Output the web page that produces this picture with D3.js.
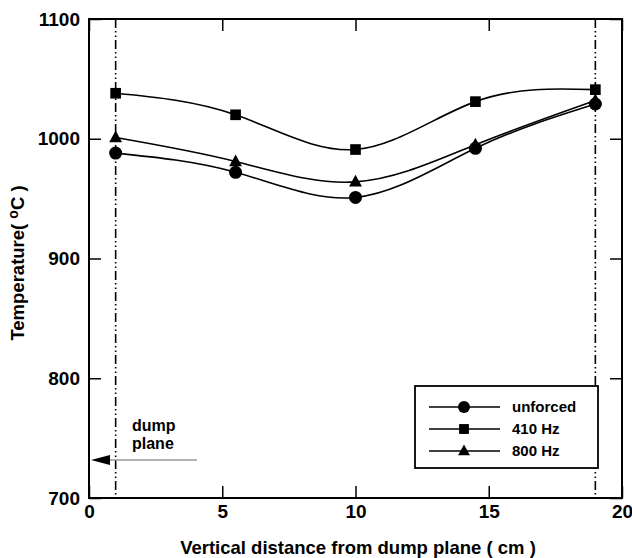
<!DOCTYPE html>
<html>
<head>
<meta charset="utf-8">
<script src="https://cdn.jsdelivr.net/npm/d3@7"></script>
<style>
    body { margin: 0; background: #fff; }
    text { font-family: "Liberation Sans", Arial, sans-serif; font-weight: bold; fill: #000; }
    .frame { fill: none; stroke: #000; stroke-width: 2; }
    .tick line { stroke: #000; stroke-width: 1.5; }
    .line { fill: none; stroke: #000; stroke-width: 1.6; }
</style>
</head>
<body>
<svg id="chart" width="632" height="558"></svg>
<script>
"use strict";

// distances (cm)
var distances = [1, 5.5, 10, 14.5, 19];
var unforced = [988, 972, 951, 992, 1029];
var hz410 = [1038, 1020, 991, 1031, 1041];
var hz800 = [1001, 981, 964, 995, 1032];
var xTicks = [0, 5, 10, 15, 20];
var yTicks = [700, 800, 900, 1000, 1100];
var dumpLines = [1, 19];

var series = [
    { name: 'unforced', shape: 'circle', values: unforced },
    { name: '410 Hz', shape: 'square', values: hz410 },
    { name: '800 Hz', shape: 'triangle', values: hz800 }
];

var svg = d3.select('#chart');
var plot = { left: 89, right: 622, top: 19, bottom: 498 };

var x = d3.scaleLinear().domain([0, 20]).range([plot.left, plot.right]);
var y = d3.scaleLinear().domain([700, 1100]).range([plot.bottom, plot.top]);

function drawMarker(g, shape, size) {
    if (shape === 'circle') {
        g.append('circle').attr('r', size / 2);
    } else if (shape === 'square') {
        var s = size * 0.82;
        g.append('rect').attr('x', -s / 2).attr('y', -s / 2).attr('width', s).attr('height', s);
    } else {
        var h = size * 0.9;
        g.append('path').attr('d', 'M0,' + (-h * 0.6) + 'L' + (h * 0.55) + ',' + (h * 0.4) + 'L' + (-h * 0.55) + ',' + (h * 0.4) + 'Z');
    }
}

function noDomain(g) { g.select('.domain').remove(); }

// axes: ticks inward on all four sides
svg.append('g').attr('transform', 'translate(0,' + plot.bottom + ')')
    .call(d3.axisBottom(x).tickValues(xTicks).tickSize(-12).tickPadding(7).tickFormat(d3.format('d')))
    .call(noDomain);
svg.append('g').attr('transform', 'translate(0,' + plot.top + ')')
    .call(d3.axisTop(x).tickValues(xTicks).tickSize(-12).tickFormat(''))
    .call(noDomain);
svg.append('g').attr('transform', 'translate(' + plot.left + ',0)')
    .call(d3.axisLeft(y).tickValues(yTicks).tickSize(-12).tickPadding(9).tickFormat(d3.format('d')))
    .call(noDomain);
svg.append('g').attr('transform', 'translate(' + plot.right + ',0)')
    .call(d3.axisRight(y).tickValues(yTicks).tickSize(-12).tickFormat(''))
    .call(noDomain);
svg.selectAll('.tick text').style('font-size', '19px').style('font-family', '"Liberation Sans", Arial, sans-serif')
    .style('font-weight', 'bold').attr('fill', '#000');

svg.append('rect').attr('class', 'frame')
    .attr('x', plot.left).attr('y', plot.top)
    .attr('width', plot.right - plot.left).attr('height', plot.bottom - plot.top);

// dump plane dash-dot lines
svg.selectAll('.dump').data(dumpLines).enter().append('line')
    .attr('x1', function (d) { return x(d); }).attr('x2', function (d) { return x(d); })
    .attr('y1', plot.top).attr('y2', plot.bottom)
    .attr('stroke', '#000').attr('stroke-width', 1.6)
    .attr('stroke-dasharray', '9,3,1.5,3,1.5,3');

// curves
var line = d3.line()
    .x(function (d, i) { return x(distances[i]); })
    .y(function (d) { return y(d); })
    .curve(d3.curveNatural);

series.forEach(function (s) {
    svg.append('path').attr('class', 'line').attr('d', line(s.values));
});
series.forEach(function (s) {
    s.values.forEach(function (v, i) {
        var g = svg.append('g').attr('transform', 'translate(' + x(distances[i]) + ',' + y(v) + ')');
        drawMarker(g, s.shape, 13);
    });
});

// dump plane annotation
svg.append('text').attr('x', 132).attr('y', 431).style('font-size', '16px').text('dump');
svg.append('text').attr('x', 132).attr('y', 449).style('font-size', '16px').text('plane');
svg.append('line').attr('x1', 197).attr('x2', 108).attr('y1', 460).attr('y2', 460)
    .attr('stroke', '#999').attr('stroke-width', 1.5);
svg.append('path').attr('d', 'M91,460L110,455L110,465Z').attr('fill', '#000');

// legend
var legend = svg.append('g');
legend.append('rect').attr('x', 415).attr('y', 386).attr('width', 183).attr('height', 82)
    .attr('fill', '#fff').attr('stroke', '#000').attr('stroke-width', 1.8);
series.forEach(function (s, i) {
    var ly = 407 + i * 22;
    legend.append('line').attr('x1', 429).attr('x2', 500).attr('y1', ly).attr('y2', ly)
        .attr('stroke', '#000').attr('stroke-width', 1.6);
    var g = legend.append('g').attr('transform', 'translate(464,' + ly + ')');
    drawMarker(g, s.shape, 12);
    legend.append('text').attr('x', 512).attr('y', ly).attr('dy', '0.36em')
        .style('font-size', '15px').text(s.name);
});

// axis titles
svg.append('text').attr('x', 358).attr('y', 554).attr('text-anchor', 'middle')
    .style('font-size', '18.5px').text('Vertical distance from dump plane ( cm )');
var yTitle = svg.append('text').attr('transform', 'translate(24,263) rotate(-90)')
    .attr('text-anchor', 'middle').style('font-size', '18.5px');
yTitle.append('tspan').text('Temperature( ');
yTitle.append('tspan').attr('dy', -6).style('font-size', '14px').text('o');
yTitle.append('tspan').attr('dy', 6).text('C )');
</script>
</body>
</html>
